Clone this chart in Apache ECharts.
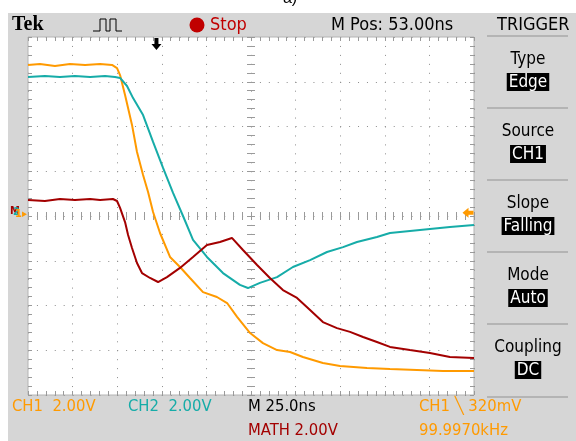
<!DOCTYPE html>
<html>
<head>
<meta charset="utf-8">
<script src="https://cdn.jsdelivr.net/npm/echarts@6/dist/echarts.min.js"></script>
<style>
html,body{margin:0;padding:0;background:#fff;}
#chart{width:576px;height:441px;}
</style>
</head>
<body>
<div id="chart"></div>
<script>
// ---- data (time in ns relative to screen centre, value in volts relative to screen centre) ----
const ch1Time = [-125,-118.3,-109.9,-101.5,-93,-84.6,-77.9,-75.1,-73.4,-70.6,-66.7,-63.9,-60.5,-57.7,-54.9,-51,-45.4,-39.8,-34.2,-26.9,-19.1,-13.4,-7.8,-0.5,6.7,14.6,21.9,29.1,40.3,49.9,65,77.9,93,107.6,125];
const ch1Volts = [6.75,6.79,6.70,6.79,6.75,6.79,6.75,6.61,6.30,5.41,4.07,2.86,1.83,1.07,0.18,-0.76,-1.83,-2.28,-2.77,-3.40,-3.62,-3.89,-4.51,-5.23,-5.68,-5.99,-6.08,-6.30,-6.57,-6.70,-6.79,-6.84,-6.88,-6.93,-6.93];
const ch2Time = [-125,-115.5,-107.1,-98.7,-90.2,-81.8,-76.2,-73.4,-69.5,-66.1,-60.5,-54.9,-49.3,-43.7,-38.1,-32.5,-24.7,-15.7,-6.2,-1.7,5,14.6,23.5,33.1,42.6,51.6,59.4,70.6,77.9,89.1,100.3,111.5,125];
const ch2Volts = [6.21,6.26,6.21,6.26,6.21,6.26,6.21,6.17,5.81,5.27,4.51,3.31,2.15,1.03,0,-1.07,-1.83,-2.55,-3.08,-3.22,-2.99,-2.73,-2.28,-1.97,-1.61,-1.39,-1.16,-0.94,-0.76,-0.67,-0.58,-0.49,-0.40];
const mathTime = [-125,-115.5,-107.1,-98.7,-90.2,-84.6,-77.4,-75.1,-73.4,-70.6,-68.9,-66.7,-63.9,-61.1,-56.6,-52.1,-47.1,-39.8,-32.5,-24.7,-17.4,-10.7,-4.5,3.4,10.6,17.9,25.8,33.1,40.3,48.2,55.5,62.8,70.6,77.9,89.1,100.3,111.5,125];
const mathVolts = [0.72,0.67,0.76,0.72,0.76,0.72,0.76,0.67,0.36,-0.27,-0.85,-1.43,-2.10,-2.55,-2.77,-2.95,-2.73,-2.32,-1.83,-1.30,-1.16,-0.98,-1.52,-2.19,-2.77,-3.31,-3.66,-4.20,-4.74,-5.01,-5.18,-5.41,-5.63,-5.85,-5.99,-6.12,-6.30,-6.35];
const triggerTime = -53;     // M Pos 53.00ns
const triggerLevel = 0.14;   // CH1 trigger level marker
const timeRange = [-125, 125];  // 10 div x 25 ns
const voltRange = [-8, 8];      // 8 div x 2 V

const topTexts = ['Tek', 'Stop', 'M Pos: 53.00ns', 'TRIGGER'];
const menuLabels = ['Type', 'Source', 'Slope', 'Mode', 'Coupling'];
const menuValues = ['Edge', 'CH1', 'Falling', 'Auto', 'DC'];
const statusRow1 = ['CH1  2.00V', 'CH2  2.00V', 'M 25.0ns', 'CH1 \u2572 320mV'];
const statusRow2 = ['MATH 2.00V', '99.9970kHz'];

const C1 = '#ff9a00', C2 = '#16aca8', CM = '#a30000';
const GREY = '#d6d6d6';
const NARROW = "'Liberation Sans Narrow','DejaVu Sans Condensed','Roboto Condensed',sans-serif";

function zip(t, v){ return t.map((x,i)=>[x, v[i]]); }

const tickStyle = {color:'#9a9a9a', width:1};
function xAx(opts){
  return Object.assign({
    type:'value', min:timeRange[0], max:timeRange[1], interval:25,
    axisLabel:{show:false}, axisLine:{show:false, onZero:false},
    axisTick:{show:true, inside:true, length:4, lineStyle:tickStyle},
    minorTick:{show:true, splitNumber:5, length:4, lineStyle:tickStyle},
    splitLine:{show:false}
  }, opts);
}
function yAx(opts){
  return Object.assign({
    type:'value', min:voltRange[0], max:voltRange[1], interval:2,
    axisLabel:{show:false}, axisLine:{show:false, onZero:false},
    axisTick:{show:true, inside:true, length:4, lineStyle:tickStyle},
    minorTick:{show:true, splitNumber:5, length:4, lineStyle:tickStyle},
    splitLine:{show:false}
  }, opts);
}
const dotLineX = {show:true, lineStyle:{color:'#8c8c8c', width:1, type:[1, 7.95]}};
const dotLineY = {show:true, lineStyle:{color:'#8c8c8c', width:1, type:[1, 7.92]}};

const downArrow = 'path://M3,0 L7,0 L7,6 L10,6 L5,12 L0,6 L3,6 Z';
const leftArrow = 'path://M0,5 L6,0 L6,3 L11,3 L11,7 L6,7 L6,10 Z';

const graphic = [
  {type:'rect', z:-10, shape:{x:8, y:13, width:568, height:428}, style:{fill:GREY}},
  {type:'text', x:290, y:-9, style:{text:'a)', font:'16px sans-serif', fill:'#000', textAlign:'center'}},
  {type:'text', x:12, y:15, style:{text:topTexts[0], font:"bold 20px 'Liberation Serif','DejaVu Serif',serif", fill:'#000'}},
  {type:'polyline', shape:{points:[[93,31],[100,31],[100,19],[106,19],[106,31],[110,31],[110,19],[116,19],[116,31],[122,31]]}, style:{stroke:'#000', lineWidth:1, fill:null}},
  {type:'circle', shape:{cx:197, cy:25, r:7.5}, style:{fill:'#c00000'}},
  {type:'text', x:210, y:16, style:{text:topTexts[1], font:'18px '+NARROW, fill:'#c00000'}},
  {type:'text', x:331, y:16, style:{text:topTexts[2], font:'18px '+NARROW, fill:'#000'}},
  {type:'text', x:497, y:16, style:{text:topTexts[3], font:'18px '+NARROW, fill:'#000'}},
  // left channel markers
  {type:'text', x:10, y:206, style:{text:'M', font:'bold 11px '+NARROW, fill:CM}},
  {type:'text', x:13, y:207, style:{text:'2', font:'bold 11px '+NARROW, fill:C2}},
  {type:'text', x:15, y:209, style:{text:'1\u25B8', font:'bold 11px '+NARROW, fill:C1}},
  // bottom status
  {type:'text', x:12, y:398, style:{text:statusRow1[0], font:'16.5px '+NARROW, fill:C1}},
  {type:'text', x:128, y:398, style:{text:statusRow1[1], font:'16.5px '+NARROW, fill:C2}},
  {type:'text', x:248, y:398, style:{text:statusRow1[2], font:'16.5px '+NARROW, fill:'#000'}},
  {type:'text', x:419, y:398, style:{text:statusRow1[3], font:'16.5px '+NARROW, fill:C1}},
  {type:'text', x:248, y:422, style:{text:statusRow2[0], font:'16.5px '+NARROW, fill:CM}},
  {type:'text', x:419, y:422, style:{text:statusRow2[1], font:'16.5px '+NARROW, fill:C1}},
  {type:'line', shape:{x1:487, y1:397, x2:568, y2:397}, style:{stroke:'#a8a8a8', lineWidth:1.5}}
];
const sepY = [36, 108, 180, 252, 324];
sepY.forEach(y=>graphic.push({type:'line', shape:{x1:487, y1:y, x2:568, y2:y}, style:{stroke:'#a8a8a8', lineWidth:1.5}}));
menuLabels.forEach((lab,i)=>{
  const y0 = sepY[i];
  graphic.push({type:'text', x:528, y:y0+15, style:{text:lab, font:'17px '+NARROW, fill:'#000', textAlign:'center'}});
  graphic.push({type:'text', x:528, y:y0+37, style:{text:menuValues[i], font:'17px '+NARROW, fill:'#fff', textAlign:'center', backgroundColor:'#000', padding:[1,2,0,2]}});
});

const chart = echarts.init(document.getElementById('chart'), null, {renderer:'canvas'});
chart.setOption({
  animation:false,
  backgroundColor:'#fff',
  grid:{left:28, top:37, width:446, height:358, show:true, backgroundColor:'#fff', borderColor:'#b4b4b4', borderWidth:1, containLabel:false, outerBoundsMode:'none'},
  xAxis:[
    xAx({position:'bottom', splitLine:dotLineX}),
    xAx({position:'top'}),
    xAx({position:'bottom', axisLine:{show:false, onZero:true, onZeroAxisIndex:0}, axisTick:{show:true, inside:false, length:4, lineStyle:tickStyle}}),
    xAx({position:'bottom', axisLine:{show:false, onZero:true, onZeroAxisIndex:0}, axisTick:{show:true, inside:true, length:4, lineStyle:tickStyle}})
  ],
  yAxis:[
    yAx({position:'left', splitLine:dotLineY}),
    yAx({position:'right'}),
    yAx({position:'left', axisLine:{show:false, onZero:true, onZeroAxisIndex:0}, axisTick:{show:true, inside:false, length:4, lineStyle:tickStyle}}),
    yAx({position:'left', axisLine:{show:false, onZero:true, onZeroAxisIndex:0}, axisTick:{show:true, inside:true, length:4, lineStyle:tickStyle}})
  ],
  graphic: graphic,
  series:[
    {name:'CH1', type:'line', data:zip(ch1Time, ch1Volts), showSymbol:false, lineStyle:{color:C1, width:2}, itemStyle:{color:C1}, z:3,
      markPoint:{silent:true, label:{show:false}, data:[
        {coord:[triggerTime, voltRange[1]], symbol:downArrow, symbolSize:[10,12], symbolOffset:[0,7], itemStyle:{color:'#000'}},
        {coord:[timeRange[1], triggerLevel], symbol:leftArrow, symbolSize:[11,10], symbolOffset:[-6,0], itemStyle:{color:C1}}
      ]}},
    {name:'CH2', type:'line', data:zip(ch2Time, ch2Volts), showSymbol:false, lineStyle:{color:C2, width:2}, itemStyle:{color:C2}, z:3},
    {name:'MATH', type:'line', data:zip(mathTime, mathVolts), showSymbol:false, lineStyle:{color:CM, width:2}, itemStyle:{color:CM}, z:3}
  ]
});
</script>
</body>
</html>
